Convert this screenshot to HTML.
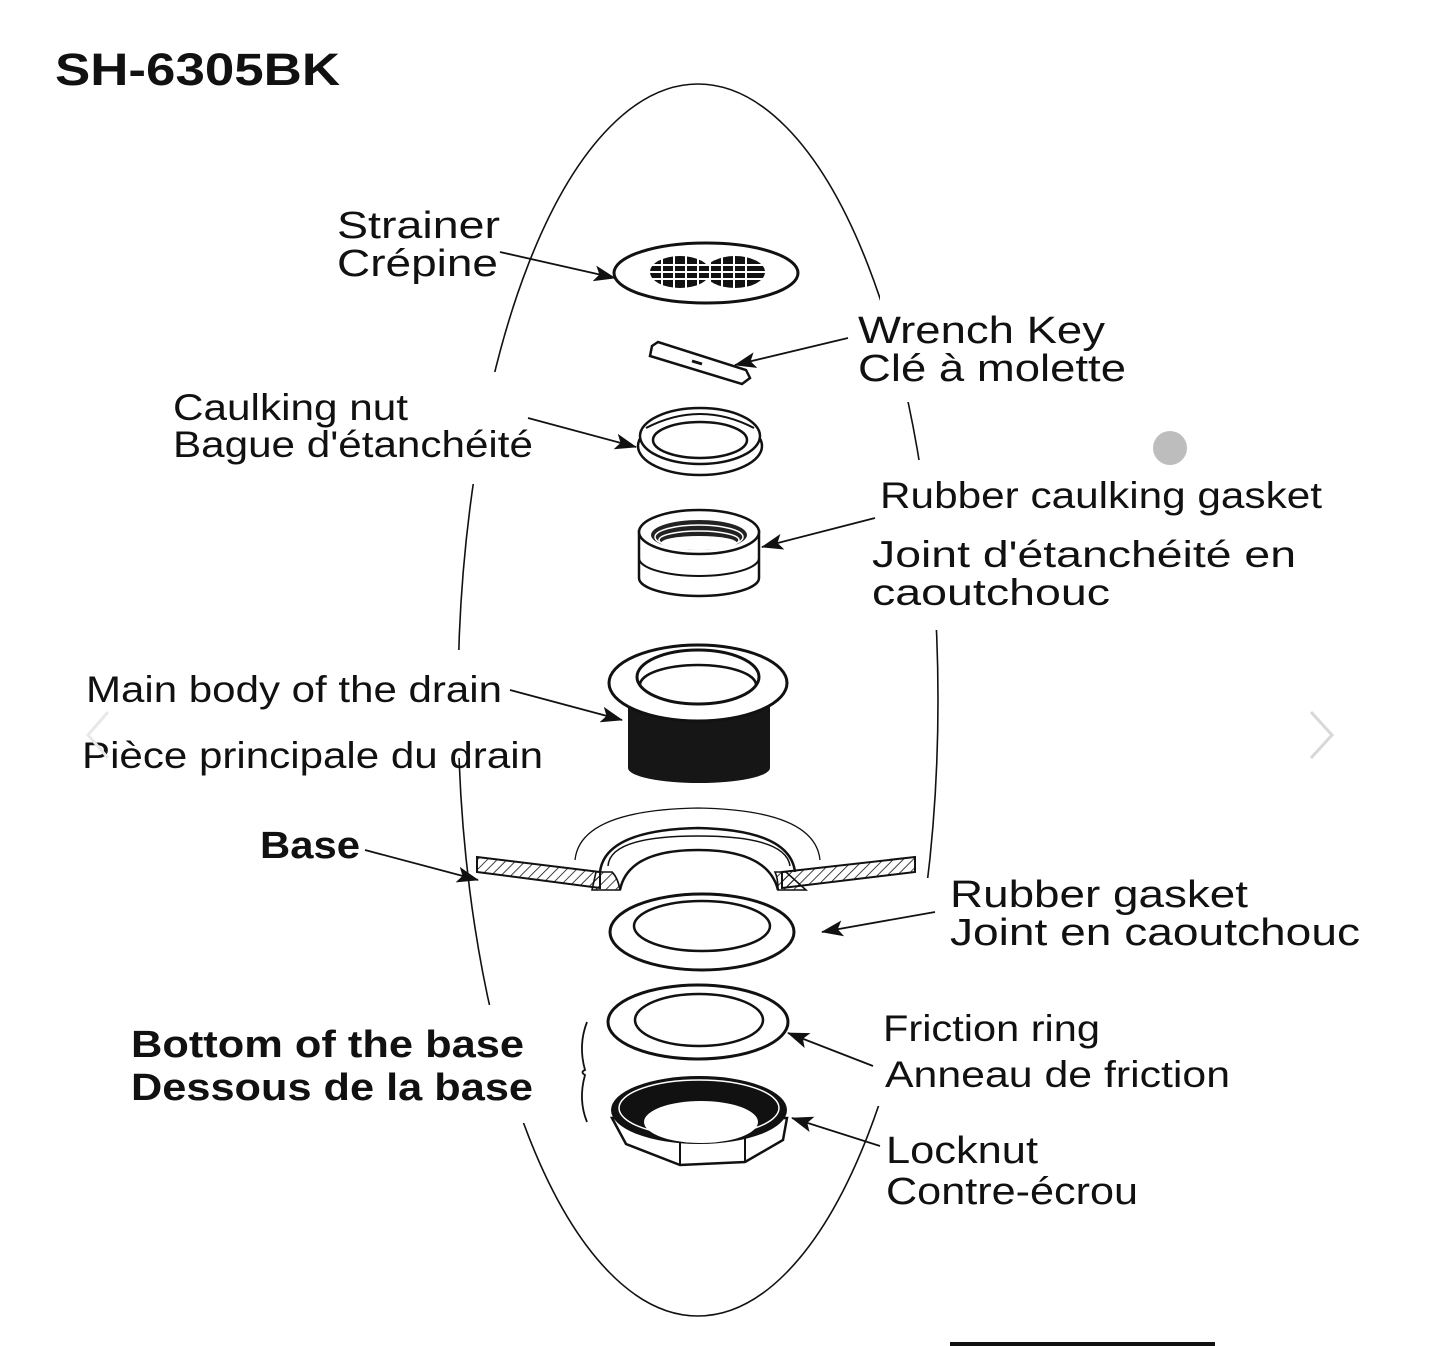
<!DOCTYPE html>
<html><head><meta charset="utf-8"><style>
html,body{margin:0;padding:0;background:#fff;}
svg{display:block;}
text{font-family:"Liberation Sans",Arial,sans-serif;fill:#111;}
</style></head><body>
<svg width="1445" height="1346" viewBox="0 0 1445 1346" xmlns="http://www.w3.org/2000/svg">
<defs>
<marker id="ar2" markerWidth="22" markerHeight="16" refX="21" refY="8" orient="auto" markerUnits="userSpaceOnUse">
<path d="M0,0 L22,8 L0,16 L5,8 Z" fill="#111"/>
</marker>
<pattern id="hatch" width="7" height="7" patternUnits="userSpaceOnUse" patternTransform="rotate(45)">
<line x1="0" y1="0" x2="0" y2="7" stroke="#111" stroke-width="1.6"/>
</pattern>
</defs>

<ellipse cx="698" cy="700" rx="240" ry="616" fill="none" stroke="#111" stroke-width="1.6"/>
<rect x="440" y="372" width="60" height="112" fill="#fff"/>
<rect x="440" y="650" width="40" height="108" fill="#fff"/>
<rect x="440" y="1005" width="90" height="118" fill="#fff"/>
<rect x="880" y="290" width="60" height="112" fill="#fff"/>
<rect x="900" y="460" width="45" height="170" fill="#fff"/>
<rect x="870" y="878" width="80" height="228" fill="#fff"/>

<text x="55" y="85" font-size="45" font-weight="bold" textLength="285" lengthAdjust="spacingAndGlyphs">SH-6305BK</text>

<g lengthAdjust="spacingAndGlyphs">
<text x="337" y="238" font-size="38" textLength="163" lengthAdjust="spacingAndGlyphs">Strainer</text>
<text x="337" y="276" font-size="38" textLength="161" lengthAdjust="spacingAndGlyphs">Crépine</text>
<text x="858" y="343" font-size="38" textLength="247" lengthAdjust="spacingAndGlyphs">Wrench Key</text>
<text x="858" y="381" font-size="38" textLength="268" lengthAdjust="spacingAndGlyphs">Clé à molette</text>
<text x="173" y="420" font-size="37" textLength="235" lengthAdjust="spacingAndGlyphs">Caulking nut</text>
<text x="173" y="457" font-size="37" textLength="360" lengthAdjust="spacingAndGlyphs">Bague d'étanchéité</text>
<text x="880" y="508" font-size="37" textLength="442" lengthAdjust="spacingAndGlyphs">Rubber caulking gasket</text>
<text x="872" y="567" font-size="37" textLength="424" lengthAdjust="spacingAndGlyphs">Joint d'étanchéité en</text>
<text x="872" y="605" font-size="37" textLength="238" lengthAdjust="spacingAndGlyphs">caoutchouc</text>
<text x="86" y="702" font-size="37" textLength="416" lengthAdjust="spacingAndGlyphs">Main body of the drain</text>
<text x="82" y="768" font-size="37" textLength="461" lengthAdjust="spacingAndGlyphs">Pièce principale du drain</text>
<text x="260" y="858" font-size="38" font-weight="bold" textLength="100" lengthAdjust="spacingAndGlyphs">Base</text>
<text x="950" y="907" font-size="38" textLength="298" lengthAdjust="spacingAndGlyphs">Rubber gasket</text>
<text x="950" y="945" font-size="38" textLength="410" lengthAdjust="spacingAndGlyphs">Joint en caoutchouc</text>
<text x="883" y="1041" font-size="37" textLength="217" lengthAdjust="spacingAndGlyphs">Friction ring</text>
<text x="885" y="1087" font-size="37" textLength="345" lengthAdjust="spacingAndGlyphs">Anneau de friction</text>
<text x="131" y="1057" font-size="38" font-weight="bold" textLength="393" lengthAdjust="spacingAndGlyphs">Bottom of the base</text>
<text x="131" y="1100" font-size="38" font-weight="bold" textLength="402" lengthAdjust="spacingAndGlyphs">Dessous de la base</text>
<text x="886" y="1163" font-size="38" textLength="152" lengthAdjust="spacingAndGlyphs">Locknut</text>
<text x="886" y="1204" font-size="38" textLength="252" lengthAdjust="spacingAndGlyphs">Contre-écrou</text>
</g>

<g stroke="#111" stroke-width="1.8" fill="none">
<line x1="500" y1="252" x2="615" y2="278" marker-end="url(#ar2)"/>
<line x1="848" y1="338" x2="735" y2="365" marker-end="url(#ar2)"/>
<line x1="528" y1="418" x2="636" y2="447" marker-end="url(#ar2)"/>
<line x1="875" y1="518" x2="762" y2="547" marker-end="url(#ar2)"/>
<line x1="510" y1="690" x2="622" y2="720" marker-end="url(#ar2)"/>
<line x1="365" y1="850" x2="478" y2="880" marker-end="url(#ar2)"/>
<line x1="935" y1="912" x2="822" y2="932" marker-end="url(#ar2)"/>
<line x1="873" y1="1066" x2="788" y2="1033" marker-end="url(#ar2)"/>
<line x1="880" y1="1146" x2="792" y2="1118" marker-end="url(#ar2)"/>
<path d="M587,1022 Q578,1045 585,1070 Q580,1072 585,1075 Q578,1100 587,1122"/>
</g>

<ellipse cx="706" cy="273" rx="92" ry="30" fill="#fff" stroke="#111" stroke-width="3"/>
<g fill="#111">
<ellipse cx="680" cy="272" rx="30" ry="16"/>
<ellipse cx="735" cy="272" rx="30" ry="16"/>
</g>
<g stroke="#fff" stroke-width="2">
<line x1="650" y1="265" x2="765" y2="265"/><line x1="650" y1="272" x2="765" y2="272"/><line x1="650" y1="279" x2="765" y2="279"/>
<line x1="662" y1="255" x2="662" y2="290"/><line x1="674" y1="255" x2="674" y2="290"/><line x1="686" y1="255" x2="686" y2="290"/><line x1="698" y1="255" x2="698" y2="290"/><line x1="710" y1="255" x2="710" y2="290"/><line x1="722" y1="255" x2="722" y2="290"/><line x1="734" y1="255" x2="734" y2="290"/><line x1="746" y1="255" x2="746" y2="290"/>
</g>

<polygon points="652,346 658,342 746,370 750,378 742,384 650,356" fill="#fff" stroke="#111" stroke-width="2.5"/>
<line x1="692" y1="361" x2="702" y2="364" stroke="#111" stroke-width="3"/>

<ellipse cx="700" cy="446" rx="62" ry="29" fill="#fff" stroke="#111" stroke-width="2.5"/>
<ellipse cx="700" cy="436" rx="60" ry="28" fill="#fff" stroke="#111" stroke-width="2.5"/>
<ellipse cx="700" cy="440" rx="47" ry="18" fill="none" stroke="#111" stroke-width="2.5"/>
<path d="M646,428 Q700,400 754,428" fill="none" stroke="#111" stroke-width="2"/>

<path d="M639,530 L639,578 A60,18 0 0 0 759,578 L759,530" fill="#fff" stroke="#111" stroke-width="2.5"/>
<path d="M639,558 A60,18 0 0 0 759,558" fill="none" stroke="#111" stroke-width="2"/>
<ellipse cx="699" cy="532" rx="60" ry="22" fill="#fff" stroke="#111" stroke-width="2.5"/>
<ellipse cx="699" cy="535" rx="48" ry="15" fill="#222"/>
<g fill="none" stroke="#fff" stroke-width="1.5">
<ellipse cx="699" cy="537" rx="44" ry="12"/><ellipse cx="699" cy="540" rx="40" ry="9"/>
</g>
<ellipse cx="699" cy="543" rx="38" ry="7" fill="#fff"/>

<path d="M628,700 L628,768 A71,15 0 0 0 770,768 L770,700 Z" fill="#161616"/>
<ellipse cx="698" cy="683" rx="89" ry="38" fill="#fff" stroke="#111" stroke-width="3"/>
<ellipse cx="698" cy="677" rx="61" ry="27" fill="#fff" stroke="#111" stroke-width="3"/>
<path d="M640,685 A58,20 0 0 1 756,685" fill="none" stroke="#111" stroke-width="2.5"/>

<path d="M477,857 L600,872 L600,888 L477,872 Z" fill="url(#hatch)" stroke="#111" stroke-width="2"/>
<path d="M782,872 L915,857 L915,872 L782,888 Z" fill="url(#hatch)" stroke="#111" stroke-width="2"/>
<path d="M596,872 L612,872 Q618,878 620,890 L592,890 Z" fill="url(#hatch)" stroke="#111" stroke-width="1.6"/>
<path d="M786,872 L775,872 Q778,878 778,890 L806,890 Z" fill="url(#hatch)" stroke="#111" stroke-width="1.6"/>
<path d="M600,872 Q605,830 698,828 Q790,830 795,872" fill="none" stroke="#111" stroke-width="2.5"/>
<path d="M620,890 Q628,850 698,850 Q768,850 778,890" fill="none" stroke="#111" stroke-width="2.5"/>
<path d="M608,866 Q610,836 698,836 Q786,836 790,866" fill="none" stroke="#111" stroke-width="1.5"/>
<path d="M575,860 Q580,810 698,808 Q815,810 820,860" fill="none" stroke="#111" stroke-width="1.3"/>

<ellipse cx="702" cy="932" rx="92" ry="38" fill="#fff" stroke="#111" stroke-width="3"/>
<ellipse cx="702" cy="926" rx="68" ry="25" fill="#fff" stroke="#111" stroke-width="2.5"/>

<ellipse cx="698" cy="1022" rx="90" ry="37" fill="#fff" stroke="#111" stroke-width="3"/>
<ellipse cx="699" cy="1020" rx="64" ry="26" fill="#fff" stroke="#111" stroke-width="2.5"/>

<polygon points="612,1118 626,1144 680,1165 745,1162 783,1140 787,1118" fill="#fff" stroke="#111" stroke-width="2.5"/>
<line x1="680" y1="1140" x2="680" y2="1165" stroke="#111" stroke-width="2"/>
<line x1="745" y1="1138" x2="745" y2="1162" stroke="#111" stroke-width="2"/>
<ellipse cx="699" cy="1110" rx="88" ry="34" fill="#111"/>
<ellipse cx="699" cy="1108" rx="80" ry="28" fill="none" stroke="#fff" stroke-width="1.5"/>
<ellipse cx="701" cy="1122" rx="57" ry="21" fill="#fff"/>

<circle cx="1170" cy="448" r="17" fill="#bdbdbd"/>
<path d="M1311,712 L1332,735 L1311,758" fill="none" stroke="#d8d8d8" stroke-width="3"/>
<path d="M108,712 L88,735 L108,758" fill="none" stroke="#e8e8e8" stroke-width="3"/>
<rect x="950" y="1342" width="265" height="4" fill="#111"/>
</svg>
</body></html>
